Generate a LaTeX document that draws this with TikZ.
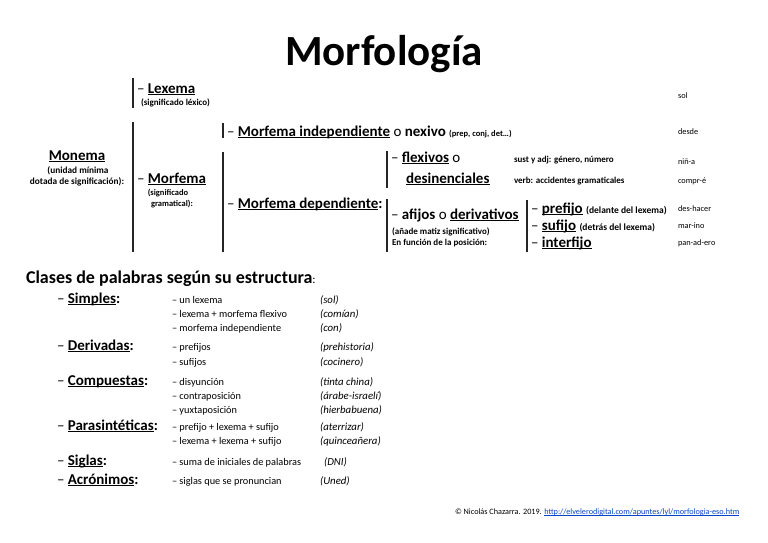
\documentclass[tikz,border=0pt]{standalone}
\usepackage{fontspec}
\setmainfont{Carlito}
\newcommand\ulw[1]{{\setbox0\hbox{#1}\leavevmode\rlap{\rule[-2.3pt]{\wd0}{1.1pt}}\box0}}
\newcommand\ulthin[1]{{\setbox0\hbox{#1}\leavevmode\rlap{\rule[-1.3pt]{\wd0}{0.5pt}}\box0}}
\definecolor{linkblue}{RGB}{5,70,200}
\begin{document}
\begin{tikzpicture}[x=1pt,y=-1pt,
  every node/.style={inner sep=0pt,outer sep=0pt},
  big/.style={anchor=base west,font=\fontsize{15}{17}\selectfont\bfseries},
  ann/.style={anchor=base west,font=\fontsize{9}{10}\selectfont\bfseries},
  annc/.style={anchor=base,font=\fontsize{9.3}{10}\selectfont\bfseries},
  anns/.style={anchor=base,font=\fontsize{8.5}{10}\selectfont\bfseries},
  ex/.style={anchor=base west,font=\fontsize{8.3}{9}\selectfont},
  lab/.style={anchor=base west,font=\fontsize{15}{17}\selectfont\bfseries},
  item/.style={anchor=base west,font=\fontsize{10.3}{12}\selectfont},
  exi/.style={anchor=base west,font=\fontsize{10.8}{12}\selectfont\itshape},
  brk/.style={line width=1.1pt,black!85}]
\useasboundingbox (0,0) rectangle (768,543);
\newcommand\dsh{{\mdseries –} }

% title
\node[anchor=base,font=\fontsize{43}{48}\selectfont\bfseries] (title) at (384,66) {Morfología};

% brackets
\draw[brk] (133,78) -- (133,108);
\draw[brk] (133,122) -- (133,252);
\draw[brk] (223,123) -- (223,138);
\draw[brk] (223,152) -- (223,252);
\draw[brk] (387,151) -- (387,188);
\draw[brk] (387,199) -- (387,252);
\draw[brk] (527,200) -- (527,252);

% Monema
\node[anchor=base,font=\fontsize{15}{17}\selectfont\bfseries] (monema) at (77,160) {\ulw{Monema}};
\node[annc] (mon1) at (78,173) {(unidad mínima};
\node[annc] (mon2) at (77,184) {dotada de significación):};

% Lexema
\node[big] (lexema) at (137,93) {\dsh\ulw{Lexema}};
\node[ann] (lex1) at (141,105) {(significado léxico)};

% Morfema
\node[big] (morfema) at (137,183) {\dsh\ulw{Morfema}};
\node[anns] (morf1) at (168,195.5) {(significado};
\node[anns] (morf2) at (172,206) {gramatical):};

% Morfema independiente
\node[big] (mind) at (227,136) {\dsh\ulw{Morfema independiente} {\mdseries o} nexivo {\fontsize{8.5}{9}\selectfont (prep, conj, det…)}};
% Morfema dependiente
\node[big] (mdep) at (227,208) {\dsh\ulw{Morfema dependiente}:};

% flexivos
\node[big] (flex) at (391,162) {\dsh\ulw{flexivos} {\mdseries o}};
\node[big] (desin) at (406,183) {\ulw{desinenciales}};
\node[ann] (flex1) at (514,162) {sust y adj: género, número};
\node[ann] (flex2) at (514,183) {verb: accidentes gramaticales};

% afijos
\node[big] (afijos) at (391,219) {\dsh afijos {\mdseries o} \ulw{derivativos}};
\node[ann] (af1) at (392,234) {(añade matiz significativo)};
\node[ann] (af2) at (392,245) {En función de la posición:};

% prefijo etc.
\node[big] (pref) at (531,213) {\dsh\ulw{prefijo} {\fontsize{9.5}{10}\selectfont (delante del lexema)}};
\node[big] (suf) at (531,230) {\dsh\ulw{sufijo} {\fontsize{9.5}{10}\selectfont (detrás del lexema)}};
\node[big] (interf) at (531,247) {\dsh\ulw{interfijo}};

% examples right column
\node[ex] (e1) at (678,98) {sol};
\node[ex] (e2) at (678,134) {desde};
\node[ex] (e3) at (678,164) {niñ-a};
\node[ex] (e4) at (678,183) {compr-é};
\node[ex] (e5) at (678,211) {des-hacer};
\node[ex] (e6) at (678,228) {mar-ino};
\node[ex] (e7) at (678,245) {pan-ad-ero};

% Clases de palabras
\node[anchor=base west,font=\fontsize{18}{20}\selectfont\bfseries] (clases) at (26,283) {Clases de palabras según su estructura{\mdseries\fontsize{12}{14}\selectfont :}};

\node[lab] (simples) at (57,303) {\dsh\ulw{Simples}:};
\node[item] (s1) at (172,303) {– un lexema};
\node[item] (s2) at (172,317) {– lexema + morfema flexivo};
\node[item] (s3) at (172,331) {– morfema independiente};
\node[exi] (s1e) at (320,303) {(sol)};
\node[exi] (s2e) at (320,317) {(comían)};
\node[exi] (s3e) at (320,331) {(con)};

\node[lab] (deriv) at (57,350) {\dsh\ulw{Derivadas}:};
\node[item] (d1) at (172,350) {– prefijos};
\node[item] (d2) at (172,365) {– sufijos};
\node[exi] (d1e) at (320,350) {(prehistoria)};
\node[exi] (d2e) at (320,365) {(cocinero)};

\node[lab] (comp) at (57,385) {\dsh\ulw{Compuestas}:};
\node[item] (c1) at (172,385) {– disyunción};
\node[item] (c2) at (172,399) {– contraposición};
\node[item] (c3) at (172,413) {– yuxtaposición};
\node[exi] (c1e) at (320,385) {(tinta china)};
\node[exi] (c2e) at (320,399) {(árabe-israelí)};
\node[exi] (c3e) at (320,413) {(hierbabuena)};

\node[lab] (paras) at (57,430) {\dsh\ulw{Parasintéticas}:};
\node[item] (p1) at (172,430) {– prefijo + lexema + sufijo};
\node[item] (p2) at (172,444) {– lexema + lexema + sufijo};
\node[exi] (p1e) at (320,430) {(aterrizar)};
\node[exi] (p2e) at (320,444) {(quinceañera)};

\node[lab] (siglas) at (57,465) {\dsh\ulw{Siglas}:};
\node[item] (g1) at (172,465) {– suma de iniciales de palabras};
\node[exi] (g1e) at (324,465) {(DNI)};

\node[lab] (acron) at (57,484) {\dsh\ulw{Acrónimos}:};
\node[item] (a1) at (172,484) {– siglas que se pronuncian};
\node[exi] (a1e) at (320,484) {(Uned)};

% footer
\node[anchor=base west,font=\fontsize{8.2}{9}\selectfont] (foot) at (455,514) {© Nicolás Chazarra. 2019. {\color{linkblue}\ulthin{http://elvelerodigital.com/apuntes/lyl/morfologia-eso.htm}}};
\end{tikzpicture}
\end{document}
